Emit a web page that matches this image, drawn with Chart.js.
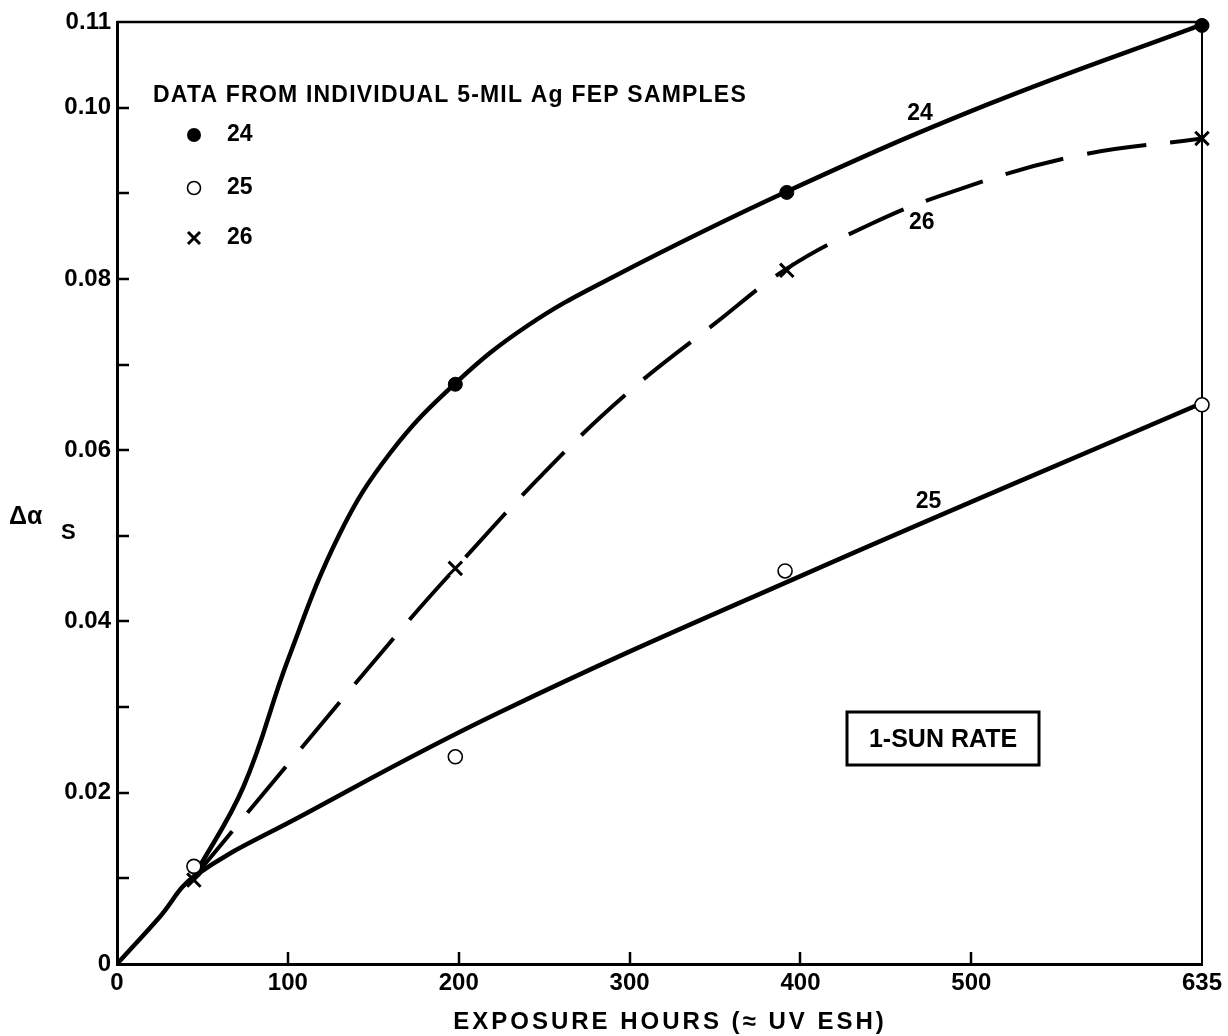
<!DOCTYPE html>
<html>
<head>
<meta charset="utf-8">
<title>Delta alpha_s vs exposure hours</title>
<script src="https://cdn.jsdelivr.net/npm/chart.js@4"></script>
<style>
  html, body { margin: 0; padding: 0; background: #fff; }
  #wrap { width: 1228px; height: 1036px; }
</style>
</head>
<body>
<div id="wrap"><canvas id="chart"></canvas></div>
<script>
// faired curve through sample 24 (hours / delta alpha_s); shares the 0-45 h leg with 25
const curve24Hours = [45, 74, 100, 130, 160, 198, 240, 290, 392, 510, 635];
const curve24Alpha = [0.0102, 0.0207, 0.0355, 0.0501, 0.0597, 0.0678, 0.0745, 0.0802, 0.0902, 0.1004, 0.1097];

// faired curve through sample 25
const curve25Hours = [0, 25, 45, 107, 224, 400, 635];
const curve25Alpha = [0, 0.0055, 0.0102, 0.0172, 0.0294, 0.0453, 0.0655];

// faired curve through sample 26 (dashed, splits off at 45 h)
const curve26Hours = [45, 107, 166, 198, 253, 300, 350, 392, 439, 486, 560, 635];
const curve26Alpha = [0.0101, 0.0250, 0.0390, 0.0462, 0.0580, 0.0669, 0.0748, 0.0812, 0.0862, 0.0900, 0.0943, 0.0964];

// measured points
const sample24Hours = [198, 392, 635];
const sample24Alpha = [0.0677, 0.0901, 0.1096];
const sample25Hours = [45, 198, 391, 635];
const sample25Alpha = [0.0114, 0.0242, 0.0459, 0.0653];
const sample26Hours = [45, 198, 392, 635];
const sample26Alpha = [0.0098, 0.0462, 0.0810, 0.0964];

const xTickValues = [0, 100, 200, 300, 400, 500, 635];

const FONT = "'Liberation Sans', Arial, sans-serif";

function pairs(xs, ys) {
  return xs.map((x, i) => ({ x: x, y: ys[i] }));
}

// frame, inward tick marks and all the annotation text
const decorations = {
  id: "decorations",
  beforeDatasetsDraw(chart) {
    const { ctx, chartArea: a, scales: { x, y } } = chart;
    ctx.save();
    ctx.strokeStyle = "#000";
    ctx.lineWidth = 2.5;
    ctx.beginPath();
    ctx.moveTo(a.left, a.top);
    ctx.lineTo(a.right, a.top);
    ctx.stroke();
    ctx.lineWidth = 2;
    ctx.beginPath();
    ctx.moveTo(a.right, a.top);
    ctx.lineTo(a.right, a.bottom);
    ctx.stroke();

    ctx.lineWidth = 2.5;
    ctx.beginPath();
    y.ticks.forEach(t => {
      if (t.value <= 0 || t.value >= 0.1099) return;
      const py = Math.round(y.getPixelForValue(t.value));
      ctx.moveTo(a.left, py);
      ctx.lineTo(a.left + 12, py);
    });
    x.ticks.forEach(t => {
      if (t.value <= 0 || t.value >= 635) return;
      const px = Math.round(x.getPixelForValue(t.value));
      ctx.moveTo(px, a.bottom);
      ctx.lineTo(px, a.bottom - 12);
    });
    ctx.stroke();
    ctx.restore();
  },
  afterDraw(chart) {
    const { ctx, scales: { x, y } } = chart;
    ctx.save();
    ctx.fillStyle = "#000";
    ctx.strokeStyle = "#000";

    // axis titles
    ctx.textBaseline = "alphabetic";
    ctx.textAlign = "center";
    ctx.font = "bold 24px " + FONT;
    ctx.letterSpacing = "3px";
    ctx.fillText("EXPOSURE HOURS (≈ UV ESH)", 670, 1029);
    ctx.letterSpacing = "0px";

    ctx.textAlign = "left";
    ctx.font = "bold 25px " + FONT;
    ctx.fillText("Δα", 9, 524);
    ctx.font = "bold 22px " + FONT;
    ctx.fillText("S", 61, 539);

    // legend
    ctx.font = "bold 23px " + FONT;
    ctx.letterSpacing = "1.2px";
    ctx.fillText("DATA FROM INDIVIDUAL 5-MIL Ag FEP SAMPLES", 153, 102);
    ctx.letterSpacing = "0px";
    ctx.textBaseline = "middle";
    ctx.font = "bold 23px " + FONT;
    ctx.fillText("24", 227, 135);
    ctx.fillText("25", 227, 188);
    ctx.fillText("26", 227, 238);

    ctx.beginPath();
    ctx.arc(194, 135, 7, 0, Math.PI * 2);
    ctx.fill();
    ctx.lineWidth = 1.6;
    ctx.beginPath();
    ctx.arc(194, 188, 6.5, 0, Math.PI * 2);
    ctx.stroke();
    ctx.lineWidth = 3;
    ctx.beginPath();
    ctx.moveTo(188, 232); ctx.lineTo(200, 244);
    ctx.moveTo(200, 232); ctx.lineTo(188, 244);
    ctx.stroke();

    // curve labels
    ctx.textAlign = "center";
    ctx.font = "bold 23px " + FONT;
    ctx.fillText("24", x.getPixelForValue(470), y.getPixelForValue(0.0993));
    ctx.fillText("26", x.getPixelForValue(471), y.getPixelForValue(0.0866));
    ctx.fillText("25", x.getPixelForValue(475), y.getPixelForValue(0.0540));

    // rate box
    ctx.lineWidth = 3;
    ctx.strokeRect(847, 712, 192, 53);
    ctx.font = "bold 25px " + FONT;
    ctx.fillText("1-SUN RATE", 943, 740);
    ctx.restore();
  }
};

const ctx = document.getElementById("chart").getContext("2d");
new Chart(ctx, {
  type: "line",
  data: {
    datasets: [
      {
        data: pairs(curve24Hours, curve24Alpha),
        borderColor: "#000", borderWidth: 4.5,
        pointRadius: 0, tension: 0.4, order: 2
      },
      {
        data: pairs(curve25Hours, curve25Alpha),
        borderColor: "#000", borderWidth: 4.5,
        pointRadius: 0, tension: 0.4, order: 2
      },
      {
        data: pairs(curve26Hours, curve26Alpha),
        borderColor: "#000", borderWidth: 4, borderDash: [60, 24],
        pointRadius: 0, tension: 0.4, order: 2
      },
      {
        type: "scatter",
        data: pairs(sample24Hours, sample24Alpha),
        pointStyle: "circle", pointRadius: 7,
        backgroundColor: "#000", borderColor: "#000", borderWidth: 1,
        clip: false, order: 1
      },
      {
        type: "scatter",
        data: pairs(sample25Hours, sample25Alpha),
        pointStyle: "circle", pointRadius: 7,
        backgroundColor: "#fff", borderColor: "#000", borderWidth: 1.6,
        clip: false, order: 1
      },
      {
        type: "scatter",
        data: pairs(sample26Hours, sample26Alpha),
        pointStyle: "crossRot", pointRadius: 9.5,
        borderColor: "#000", borderWidth: 3,
        clip: false, order: 1
      }
    ]
  },
  options: {
    responsive: true,
    maintainAspectRatio: false,
    animation: false,
    events: [],
    layout: { padding: { top: 22, right: 26, left: 0, bottom: 0 } },
    plugins: {
      legend: { display: false },
      tooltip: { enabled: false },
      title: { display: false }
    },
    scales: {
      x: {
        type: "linear",
        min: 0, max: 635,
        grid: { display: false, drawTicks: false, tickLength: 0 },
        border: { display: true, width: 3, color: "#000" },
        afterBuildTicks: scale => {
          scale.ticks = xTickValues.map(v => ({ value: v }));
        },
        afterFit: scale => { scale.height = 72; },
        ticks: {
          color: "#000",
          padding: 5,
          maxRotation: 0,
          autoSkip: false,
          font: { family: FONT, size: 24, weight: "bold" },
          callback: v => String(v)
        }
      },
      y: {
        type: "linear",
        min: 0, max: 0.11,
        grid: { display: false, drawTicks: false, tickLength: 0 },
        border: { display: true, width: 3, color: "#000" },
        afterFit: scale => { scale.width = 117; },
        ticks: {
          stepSize: 0.01,
          color: "#000",
          padding: 6,
          autoSkip: false,
          font: { family: FONT, size: 24, weight: "bold" },
          callback: v => {
            const n = Math.round(v * 100);
            if (n === 0) return "0";
            if (n % 2 === 0 || n === 11) return (n / 100).toFixed(2);
            return "";
          }
        }
      }
    }
  },
  plugins: [decorations]
});
</script>
</body>
</html>
